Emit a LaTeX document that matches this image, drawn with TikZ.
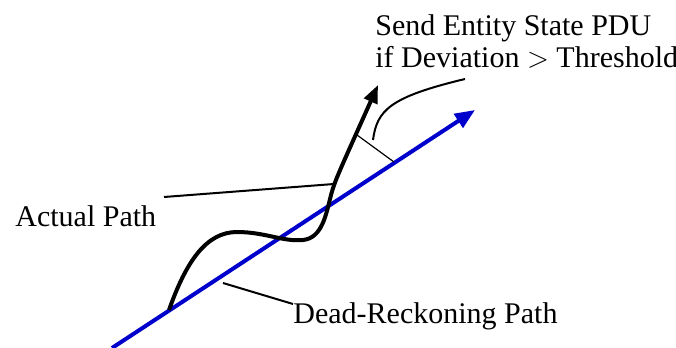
\documentclass[tikz,border=0pt]{standalone}
\usepackage{fontspec}
\setmainfont{Liberation Serif}
\usetikzlibrary{arrows.meta}
\definecolor{drblue}{RGB}{0,0,204}
\tikzset{
  lbl/.style    ={font=\fontsize{15}{16.5}\selectfont, inner sep=0pt, align=left},
  drpath/.style ={draw=drblue, line width=2pt, -{Triangle[length=10pt,width=8pt]}},
  acpath/.style ={draw, line width=2pt, -{Triangle[length=9pt,width=7pt]}},
  lead/.style   ={draw, line width=1pt},
  dev/.style    ={draw, line width=0.6pt},
}

\begin{document}
\begin{tikzpicture}[x=0.5pt, y=-0.5pt]
  \useasboundingbox (0,0) rectangle (676,348);

  % paths
  \coordinate (dr0) at (112,348);
  \coordinate (dr1) at (475,110);
  \coordinate (ac0) at (169,310);
  \coordinate (ac1) at (378,85);
  \draw[drpath] (dr0) -- (dr1);
  \draw[acpath] (ac0) .. controls (186,262) and (206,232) .. (237,232)
    .. controls (265,232) and (283,242) .. (303,240)
    .. controls (322,238) and (326,215) .. (331,195)
    .. controls (335,180) and (340,170) .. (ac1);

  % deviation
  \coordinate (dv0) at (357,135);
  \coordinate (dv1) at (394,162);
  \draw[dev] (dv0) -- (dv1);

  % labels
  \node[lbl, anchor=base west] (send) at (375,68) {Send Entity State PDU\\if Deviation $>$ Threshold};
  \node[lbl, anchor=base west] (act) at (15,226) {Actual Path};
  \node[lbl, anchor=base west] (dead) at (293,323) {Dead-Reckoning Path};

  \coordinate (sendL) at (465,79);
  \coordinate (devL) at (373,140);
  \coordinate (actL) at (164,197);
  \coordinate (acP) at (334,184);
  \coordinate (deadL) at (293,304);
  \coordinate (drP) at (223,283);
  \draw[lead] (devL) .. controls (377,110) and (390,97) .. (sendL);
  \draw[lead] (actL) -- (acP);
  \draw[lead] (drP) -- (deadL);
\end{tikzpicture}
\end{document}
